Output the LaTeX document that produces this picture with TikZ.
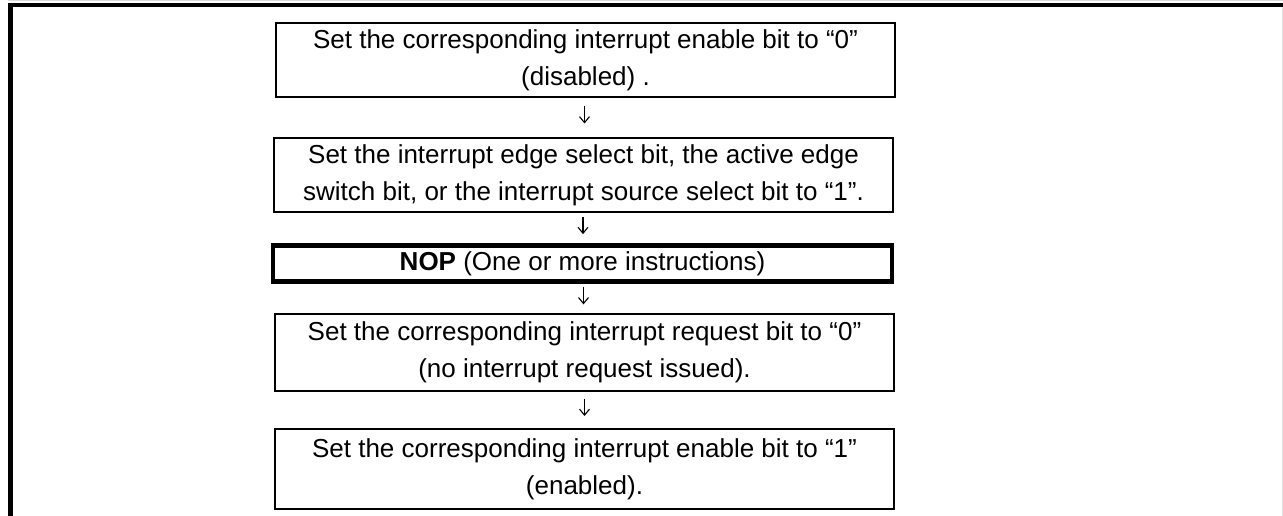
\documentclass[tikz,border=0pt]{standalone}
\usepackage{fontspec}
\setmainfont{Liberation Sans}
\usetikzlibrary{arrows.meta,calc}
\begin{document}
\begin{tikzpicture}[x=1pt,y=1pt,
  stepbox/.style={draw=black, line width=2pt, fill=white, inner sep=0pt,
    minimum width=619pt, align=center,
    font=\fontsize{26}{37}\selectfont},
  nopbox/.style={stepbox, line width=4.5pt},
  arr/.style={line width=1.1pt, -{Straight Barb[length=6pt,width=10pt]}}]
\useasboundingbox (0,0) rectangle (1283,-516);
% frame
\draw[black!15, line width=1pt] (8,-0.5) -- (1283,-0.5);
\draw[black!12, line width=1pt] (1282.5,-7) -- (1282.5,-516);
\fill[black] (8,-3) rectangle (1283,-7.5);
\fill[black] (8,-3) rectangle (13,-516);
% boxes
\node[stepbox, minimum height=74pt] (b1) at (585.5,-60)
  {Set the corresponding interrupt enable bit to “0”\\(disabled) .};
\node[stepbox, minimum height=74pt] (b2) at (583.5,-175)
  {Set the interrupt edge select bit, the active edge\\switch bit, or the interrupt source select bit to “1”.};
\node[nopbox, minimum height=36pt] (b3) at (582.5,-263.5)
  {\textbf{NOP} (One or more instructions)};
\node[stepbox, minimum height=77pt] (b4) at (584.5,-352.5)
  {Set the corresponding interrupt request bit to “0”\\(no interrupt request issued).};
\node[stepbox, minimum height=80pt] (b5) at (584.5,-469)
  {Set the corresponding interrupt enable bit to “1”\\(enabled).};
% arrows
\draw[arr] ($(b1.south)!0.5!(b2.north)+(0,11)$) -- ($(b1.south)!0.5!(b2.north)+(0,-6)$);
\draw[arr] ($(b2.south)!0.5!(b3.north)+(0,11)$) -- ($(b2.south)!0.5!(b3.north)+(0,-6)$);
\draw[arr] ($(b3.south)!0.5!(b4.north)+(0,11)$) -- ($(b3.south)!0.5!(b4.north)+(0,-6)$);
\draw[arr] ($(b4.south)!0.5!(b5.north)+(0,11)$) -- ($(b4.south)!0.5!(b5.north)+(0,-6)$);
\end{tikzpicture}
\end{document}
